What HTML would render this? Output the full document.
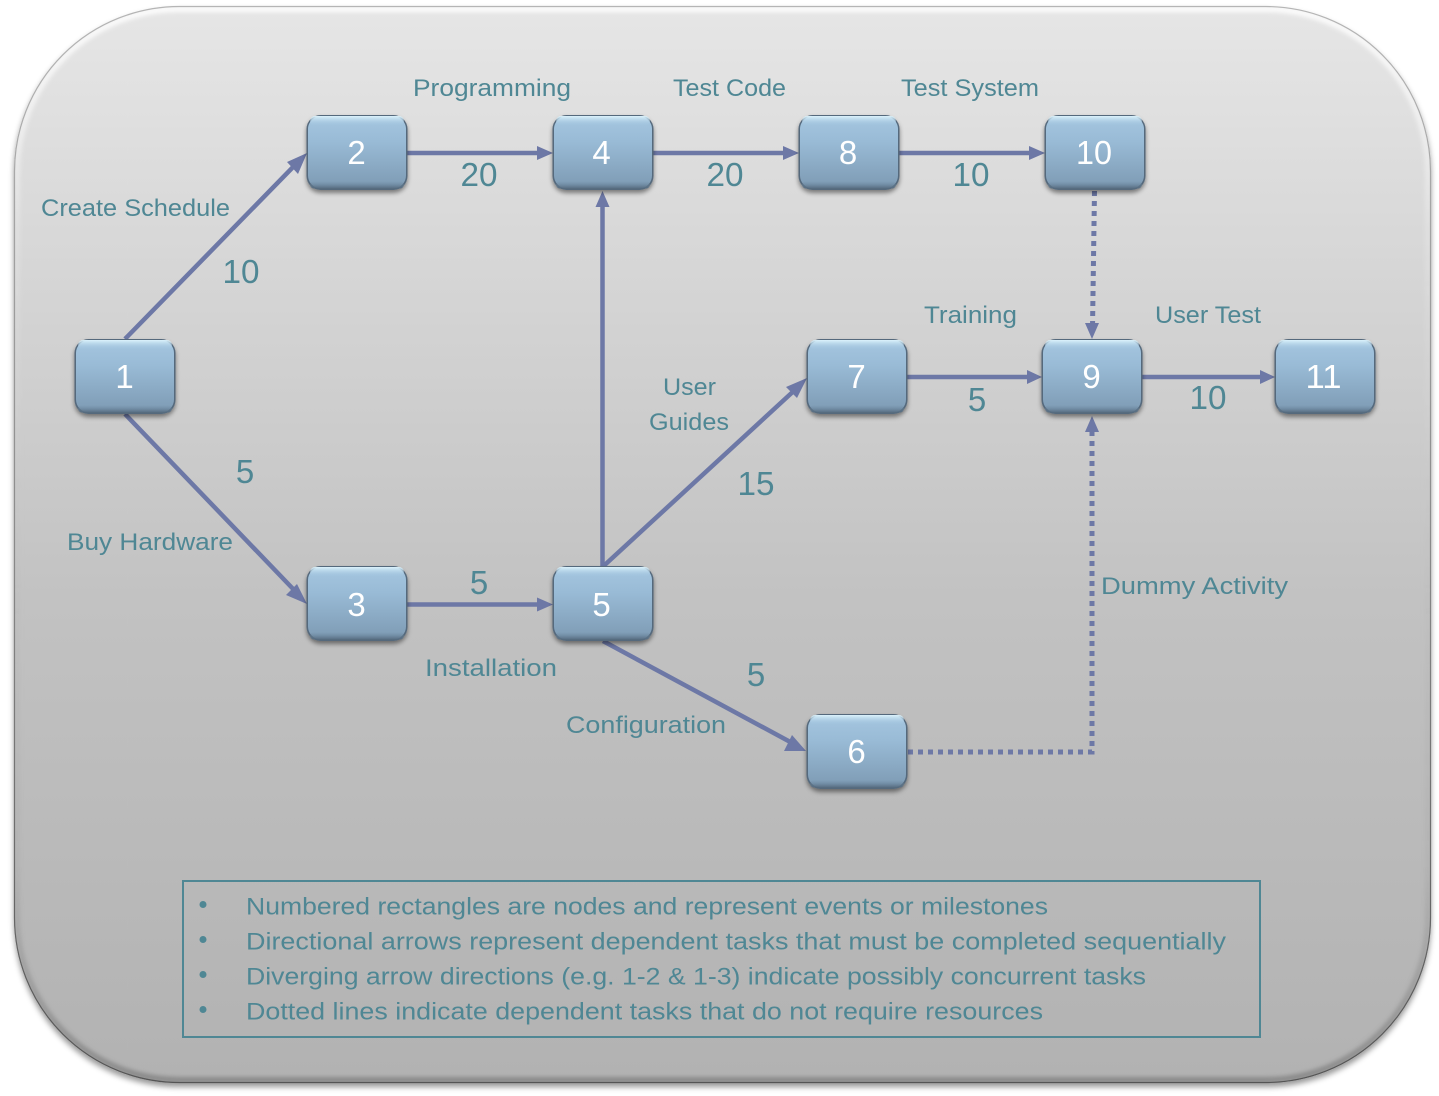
<!DOCTYPE html>
<html>
<head>
<meta charset="utf-8">
<style>
html,body{margin:0;padding:0;background:#fff;width:1439px;height:1096px;overflow:hidden}
svg{display:block}
text{font-family:"Liberation Sans",sans-serif}
.l{font-size:24px;fill:#4f8794}
.n{font-size:33px;fill:#4f8794}
.w{font-size:33px;fill:#fff}
.b{font-size:24px;fill:#4f8794}
</style>
</head>
<body>
<svg width="1439" height="1096" viewBox="0 0 1439 1096" xmlns="http://www.w3.org/2000/svg">
<defs>
<linearGradient id="bg" x1="0" y1="0" x2="0" y2="1">
<stop offset="0" stop-color="#e6e6e6"/><stop offset=".55" stop-color="#c2c2c2"/><stop offset="1" stop-color="#b2b2b2"/>
</linearGradient>
<linearGradient id="edge" x1="0" y1="0" x2="0" y2="1">
<stop offset="0" stop-color="#b5b5b5"/><stop offset=".5" stop-color="#8a8a8a"/><stop offset="1" stop-color="#555"/>
</linearGradient>
<linearGradient id="bevel" x1="0" y1="0" x2="0" y2="1">
<stop offset="0" stop-color="#fff" stop-opacity=".9"/><stop offset=".2" stop-color="#fff" stop-opacity=".2"/><stop offset=".8" stop-color="#777" stop-opacity=".1"/><stop offset="1" stop-color="#666" stop-opacity=".55"/>
</linearGradient>
<linearGradient id="node" x1="0" y1="0" x2="0" y2="1">
<stop offset="0" stop-color="#a5c6e0"/><stop offset=".35" stop-color="#99bbd6"/><stop offset="1" stop-color="#7d9ab3"/>
</linearGradient>
<linearGradient id="hi" x1="0" y1="0" x2="0" y2="1">
<stop offset="0" stop-color="#dcf3fc"/><stop offset="1" stop-color="#9fc3de" stop-opacity="0"/>
</linearGradient>
<linearGradient id="lo" x1="0" y1="0" x2="0" y2="1">
<stop offset="0" stop-color="#6f8aa2" stop-opacity="0"/><stop offset="1" stop-color="#566c80"/>
</linearGradient>
<filter id="ds" x="-10%" y="-20%" width="120%" height="150%">
<feDropShadow dx="0" dy="3" stdDeviation="2.500" flood-color="#000" flood-opacity=".45"/>
</filter>
<filter id="bs" x="-3%" y="-3%" width="106%" height="106%">
<feDropShadow dx="0" dy="4" stdDeviation="3" flood-color="#000" flood-opacity=".4"/>
</filter>
<filter id="blur" x="-3%" y="-3%" width="106%" height="106%"><feGaussianBlur stdDeviation="2"/></filter>
<clipPath id="panel"><rect x="14" y="6" width="1417" height="1077" rx="165"/></clipPath>
<g id="nd">
<rect x="-0.500" y="-1" width="101" height="75" rx="14" fill="#55697c" filter="url(#ds)"/>
<rect x="1" y="0" width="98" height="72.500" rx="13" fill="url(#node)"/>
<rect x="3" y="0" width="94" height="10" rx="5" fill="url(#hi)"/>
<rect x="3" y="65" width="94" height="7.500" rx="4" fill="url(#lo)"/>
</g>
</defs>

<rect x="14" y="6" width="1417" height="1077" rx="165" fill="url(#bg)" filter="url(#bs)"/>
<g clip-path="url(#panel)">
<rect x="17" y="9" width="1411" height="1071" rx="162" fill="none" stroke="url(#bevel)" stroke-width="6" filter="url(#blur)"/>
</g>
<rect x="14.500" y="6.500" width="1416" height="1076" rx="165" fill="none" stroke="url(#edge)" stroke-width="1.200"/>

<!-- connectors -->
<g stroke="#6d78a6" stroke-width="4.500" fill="none">
<line x1="125" y1="339" x2="296" y2="164"/>
<line x1="125" y1="414" x2="296" y2="592"/>
<line x1="407" y1="153" x2="540" y2="153"/>
<line x1="653" y1="153" x2="786" y2="153"/>
<line x1="899" y1="153" x2="1032" y2="153"/>
<line x1="407" y1="604.500" x2="540" y2="604.500"/>
<line x1="602.500" y1="567" x2="602.500" y2="204"/>
<line x1="602.500" y1="567" x2="797" y2="388"/>
<line x1="603" y1="641" x2="794" y2="744"/>
<line x1="907" y1="377" x2="1030" y2="377"/>
<line x1="1142" y1="377" x2="1262" y2="377"/>
<g stroke-width="5" stroke-dasharray="5 5">
<line x1="1094.500" y1="191" x2="1092.500" y2="328"/>
<polyline points="908,752 1092,752 1092,429"/>
</g>
</g>
<g fill="#6d78a6">
<polygon points="307,153 298,174 287,162"/>
<polygon points="307,604 286,595 297,584"/>
<polygon points="553,153 537,146 537,160"/>
<polygon points="799,153 783,146 783,160"/>
<polygon points="1045,153 1029,146 1029,160"/>
<polygon points="553,604.500 537,597.500 537,611.500"/>
<polygon points="602.500,191 595.500,207 609.500,207"/>
<polygon points="807,378 797,398 786,387"/>
<polygon points="806,751 784,751 792,735"/>
<polygon points="1042,377 1027,370 1027,384"/>
<polygon points="1275,377 1260,370 1260,384"/>
<polygon points="1092,339 1085,323 1099,323"/>
<polygon points="1092,416 1085,432 1099,432"/>
</g>

<!-- nodes -->
<use href="#nd" x="75" y="340"/>
<use href="#nd" x="307" y="116"/>
<use href="#nd" x="553" y="116"/>
<use href="#nd" x="799" y="116"/>
<use href="#nd" x="1045" y="116"/>
<use href="#nd" x="807" y="340"/>
<use href="#nd" x="1042" y="340"/>
<use href="#nd" x="1275" y="340"/>
<use href="#nd" x="307" y="567"/>
<use href="#nd" x="553" y="567"/>
<use href="#nd" x="807" y="715"/>

<!-- node labels -->
<g text-anchor="middle">
<text class="w" x="124.500" y="388">1</text>
<text class="w" x="356.500" y="164">2</text>
<text class="w" x="601.500" y="164">4</text>
<text class="w" x="848" y="164">8</text>
<text class="w" x="1094" y="164" textLength="36" lengthAdjust="spacingAndGlyphs">10</text>
<text class="w" x="856.500" y="388">7</text>
<text class="w" x="1091.500" y="388">9</text>
<text class="w" x="1323.500" y="388" textLength="36" lengthAdjust="spacingAndGlyphs">11</text>
<text class="w" x="356.500" y="616">3</text>
<text class="w" x="601.500" y="616">5</text>
<text class="w" x="856.500" y="763">6</text>
</g>

<!-- numbers -->
<g text-anchor="middle">
<text class="n" x="479" y="186" textLength="37" lengthAdjust="spacingAndGlyphs">20</text>
<text class="n" x="725" y="186" textLength="37" lengthAdjust="spacingAndGlyphs">20</text>
<text class="n" x="971" y="186" textLength="37" lengthAdjust="spacingAndGlyphs">10</text>
<text class="n" x="241" y="283" textLength="37" lengthAdjust="spacingAndGlyphs">10</text>
<text class="n" x="245" y="483">5</text>
<text class="n" x="479" y="594">5</text>
<text class="n" x="756" y="495" textLength="37" lengthAdjust="spacingAndGlyphs">15</text>
<text class="n" x="977" y="411">5</text>
<text class="n" x="1208" y="409" textLength="37" lengthAdjust="spacingAndGlyphs">10</text>
<text class="n" x="756" y="686">5</text>
</g>

<!-- task labels -->
<text class="l" x="41" y="216" textLength="189" lengthAdjust="spacingAndGlyphs">Create Schedule</text>
<text class="l" x="413" y="96" textLength="158" lengthAdjust="spacingAndGlyphs">Programming</text>
<text class="l" x="673" y="96" textLength="113" lengthAdjust="spacingAndGlyphs">Test Code</text>
<text class="l" x="901" y="96" textLength="138" lengthAdjust="spacingAndGlyphs">Test System</text>
<text class="l" x="924" y="323" textLength="93" lengthAdjust="spacingAndGlyphs">Training</text>
<text class="l" x="1155" y="323" textLength="106" lengthAdjust="spacingAndGlyphs">User Test</text>
<text class="l" x="663" y="395" textLength="53" lengthAdjust="spacingAndGlyphs">User</text>
<text class="l" x="649" y="430" textLength="80" lengthAdjust="spacingAndGlyphs">Guides</text>
<text class="l" x="67" y="550" textLength="166" lengthAdjust="spacingAndGlyphs">Buy Hardware</text>
<text class="l" x="425" y="676" textLength="132" lengthAdjust="spacingAndGlyphs">Installation</text>
<text class="l" x="566" y="733" textLength="160" lengthAdjust="spacingAndGlyphs">Configuration</text>
<text class="l" x="1101" y="594" textLength="187" lengthAdjust="spacingAndGlyphs">Dummy Activity</text>

<!-- legend -->
<rect x="183" y="881" width="1077" height="156" fill="none" stroke="#4f8794" stroke-width="2"/>
<g fill="#4f8794">
<circle cx="203" cy="904.500" r="3.500"/>
<circle cx="203" cy="939.500" r="3.500"/>
<circle cx="203" cy="974.500" r="3.500"/>
<circle cx="203" cy="1009.500" r="3.500"/>
</g>
<text class="b" x="246" y="914.500" textLength="802" lengthAdjust="spacingAndGlyphs">Numbered rectangles are nodes and represent events or milestones</text>
<text class="b" x="246" y="949.500" textLength="980" lengthAdjust="spacingAndGlyphs">Directional arrows represent dependent tasks that must be completed sequentially</text>
<text class="b" x="246" y="984.500" textLength="900" lengthAdjust="spacingAndGlyphs">Diverging arrow directions (e.g. 1-2 &amp; 1-3) indicate possibly concurrent tasks</text>
<text class="b" x="246" y="1019.500" textLength="797" lengthAdjust="spacingAndGlyphs">Dotted lines indicate dependent tasks that do not require resources</text>
</svg>
</body>
</html>
